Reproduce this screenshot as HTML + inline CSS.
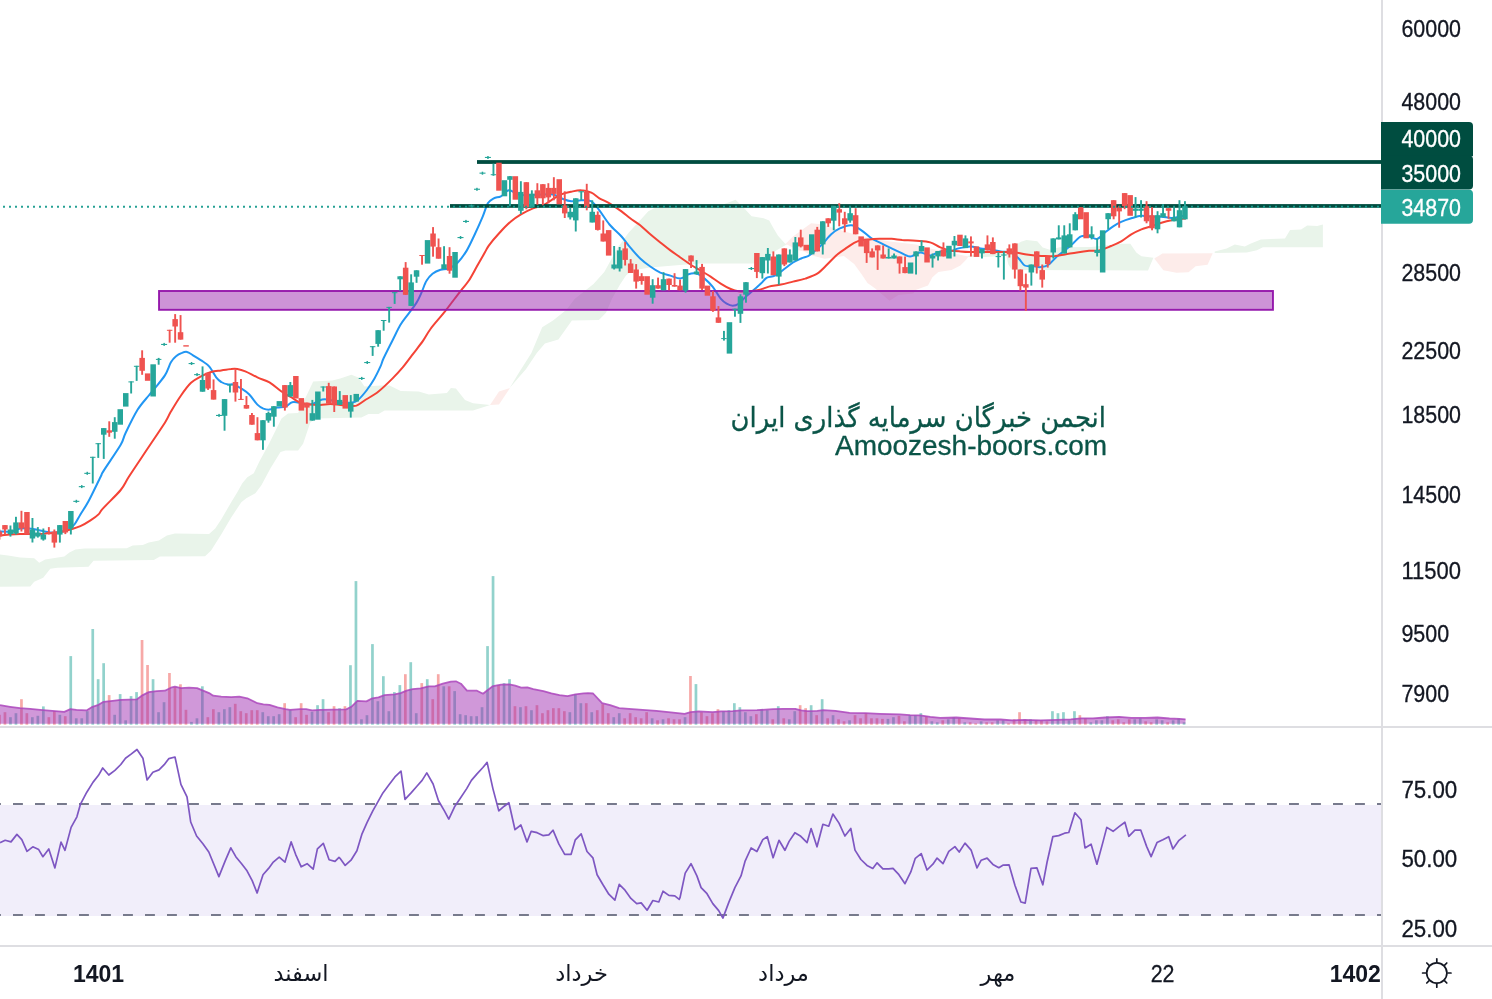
<!DOCTYPE html>
<html lang="fa"><head><meta charset="utf-8"><title>Chart</title>
<style>html,body{margin:0;padding:0;background:#fff}body{width:1492px;height:999px;overflow:hidden;position:relative;font-family:"Liberation Sans","DejaVu Sans",sans-serif}</style>
</head><body>
<svg width="1492" height="999" viewBox="0 0 1492 999" style="position:absolute;left:0;top:0;display:block">
<rect width="1492" height="999" fill="#fff"/>
<g id="cloud" stroke="none">
<polygon fill="#e9f4ea" points="0,554.6 8,555.6 20.1,557.6 34.2,558.2 39.2,562.7 45.2,559.6 64.3,556.6 69.4,552.6 75.4,549.6 84.5,548.6 126.7,548.2 132.7,545.6 142.8,545 148.8,542.6 158.9,540.5 166.9,535.5 174.9,533.5 209.1,534.1 215.2,528.5 221.2,519.4 231.2,502.3 237.3,492.3 242.3,483.2 247.3,477.2 253.8,473.2 259.4,461.5 269.4,443 281.5,418.6 288,413.6 298.1,413 306.1,396.5 313.2,381.4 332.3,380.4 340.3,378.4 351.4,374.8 358.4,377.4 364.5,386.5 380.5,385.5 389.6,385.5 400.7,391.1 418.7,391.5 428.8,394.5 446.9,392.9 450.9,387.9 455.9,388.5 465,399.9 473,403.2 490.1,405 490.1,405 473,410.6 384.6,410.6 378.5,414 368.5,414 361.4,417.6 315.2,418.6 310.2,422.7 303.1,443.8 298.1,450.4 285.5,450.6 280.5,452.1 270.5,468.2 261.4,485.2 255.4,493.3 246.3,498.3 241.3,502.3 231.2,517.4 221.2,534.5 211.1,550.6 205.1,556.2 159.9,556.6 153.8,560 93.5,560.7 88.5,566.7 57.3,567.7 50.3,568.7 43.2,577.7 34.2,581.8 30.2,586.4 0,586.8"/>
<polygon fill="#e9f4ea" points="509.7,388.1 517.8,374.6 531.4,353 542.2,327.3 553,320.5 566.5,309.7 574.6,298.9 593.5,284.1 604.3,271.9 617.8,247.6 628.6,232.7 640.2,220.3 648.3,211.2 654.3,208.2 677.3,207.4 717.8,206.5 735.6,199.8 744.4,208.6 751.6,216.2 763.6,218.2 769.2,220.6 773.2,227.8 778,235.8 785.2,243.8 787,244.2 787,244.2 754,263.5 700,263.5 680,265 650,267.5 632,270.5 626,275.5 620,284.6 612,298.7 606,312.8 598.9,320 571.9,320.5 558.4,339.5 544.9,343.5 536.8,353 525.9,369.2 517.8,378.6"/>
<polygon fill="#e9f4ea" points="1006,254.5 1010,250 1015,245.5 1021,241.7 1026.4,239.9 1037.3,241.2 1042.7,247.5 1049.9,249.8 1059.8,247.3 1091.1,247 1121.2,243.8 1130.3,243.8 1136.3,252.4 1141.4,256.3 1153.4,257.8 1153.4,257.8 1148,270.5 1090,270.3 1012,270 1008.4,264.6 1006.2,255.6"/>
<polygon fill="#e9f4ea" points="1214.7,251.6 1226.7,248.6 1234.8,244.6 1244.8,246.6 1250.9,243.6 1260.9,239.5 1285,238.5 1290.1,229.9 1301.1,229.5 1307.2,225.5 1317.2,226.1 1322.9,224.5 1322.9,247.2 1262.9,247.2 1256.9,250.2 1246.8,252.6 1214.7,253"/>
<polygon fill="#e9f4ea" points="968.4,255.8 985,253 1006,251 1006,255.8 985,257 968.4,257"/>
<polygon fill="#fdecea" points="490,405 499,391.5 510,388 504,397 499,404.5"/>
<polygon fill="#fdecea" points="785,244.4 793,236.4 811.1,223.3 821.2,224.3 841,230.3 861,236.4 890,241.4 916,244.4 930.2,248.4 968.4,256.5 968.4,256.5 966.3,259.6 960.4,265.5 951.6,269.9 938.3,272.1 932.4,277.2 928,285.4 916.2,289.8 913.2,293.5 898.5,294.9 889.6,300.8 879.3,292 874.9,288.3 867.5,283.1 861.6,274.3 854.2,264 843.9,255.9 824.7,258.8 810,255.1 804.5,251.5 798,250.2 787,244.6"/>
<polygon fill="#fdecea" points="1154.3,258.6 1162.4,253.6 1212.7,253.2 1207.6,264.7 1195.6,266.3 1188.5,272.3 1176.5,272.7 1163.4,270.3"/>
</g>
<g id="vol" fill-opacity="0.5">
<rect x="-1.9" y="714.8" width="2.7" height="9.9" fill="#ef5350"/>
<rect x="3.6" y="712.2" width="2.7" height="12.5" fill="#ef5350"/>
<rect x="9.1" y="717.2" width="2.7" height="7.4" fill="#26a69a"/>
<rect x="14.6" y="713.2" width="2.7" height="11.5" fill="#26a69a"/>
<rect x="20.1" y="699.2" width="2.7" height="25.5" fill="#ef5350"/>
<rect x="25.5" y="713.2" width="2.7" height="11.5" fill="#ef5350"/>
<rect x="31" y="717.2" width="2.7" height="7.4" fill="#26a69a"/>
<rect x="36.5" y="715.8" width="2.7" height="8.8" fill="#26a69a"/>
<rect x="42" y="706.4" width="2.7" height="18.3" fill="#26a69a"/>
<rect x="47.5" y="717.2" width="2.7" height="7.4" fill="#ef5350"/>
<rect x="53" y="711.2" width="2.7" height="13.5" fill="#ef5350"/>
<rect x="58.5" y="714.8" width="2.7" height="9.9" fill="#26a69a"/>
<rect x="63.9" y="716.2" width="2.7" height="8.4" fill="#ef5350"/>
<rect x="69.4" y="656.1" width="2.7" height="68.6" fill="#26a69a"/>
<rect x="74.9" y="718.3" width="2.7" height="6.4" fill="#26a69a"/>
<rect x="80.4" y="718.3" width="2.7" height="6.4" fill="#26a69a"/>
<rect x="85.9" y="711.2" width="2.7" height="13.5" fill="#26a69a"/>
<rect x="91.4" y="629" width="2.7" height="95.7" fill="#26a69a"/>
<rect x="96.8" y="679.2" width="2.7" height="45.4" fill="#26a69a"/>
<rect x="102.3" y="663.2" width="2.7" height="61.5" fill="#26a69a"/>
<rect x="107.8" y="695.1" width="2.7" height="29.6" fill="#ef5350"/>
<rect x="113.3" y="714.8" width="2.7" height="9.9" fill="#26a69a"/>
<rect x="118.8" y="694.1" width="2.7" height="30.6" fill="#26a69a"/>
<rect x="124.3" y="720.3" width="2.7" height="4.4" fill="#26a69a"/>
<rect x="129.7" y="696.1" width="2.7" height="28.6" fill="#26a69a"/>
<rect x="135.2" y="692.1" width="2.7" height="32.6" fill="#26a69a"/>
<rect x="140.7" y="640" width="2.7" height="84.7" fill="#ef5350"/>
<rect x="146.2" y="665" width="2.7" height="59.7" fill="#ef5350"/>
<rect x="151.7" y="679.2" width="2.7" height="45.4" fill="#26a69a"/>
<rect x="157.2" y="712.2" width="2.7" height="12.5" fill="#26a69a"/>
<rect x="162.7" y="702.2" width="2.7" height="22.5" fill="#26a69a"/>
<rect x="168.1" y="673" width="2.7" height="51.7" fill="#ef5350"/>
<rect x="173.6" y="687.1" width="2.7" height="37.6" fill="#ef5350"/>
<rect x="179.1" y="684.3" width="2.7" height="40.4" fill="#ef5350"/>
<rect x="184.6" y="709.8" width="2.7" height="14.9" fill="#ef5350"/>
<rect x="190.1" y="721.9" width="2.7" height="2.8" fill="#26a69a"/>
<rect x="195.6" y="718.3" width="2.7" height="6.4" fill="#26a69a"/>
<rect x="201" y="686.3" width="2.7" height="38.4" fill="#26a69a"/>
<rect x="206.5" y="717.2" width="2.7" height="7.4" fill="#ef5350"/>
<rect x="212" y="709.2" width="2.7" height="15.5" fill="#ef5350"/>
<rect x="217.5" y="712.2" width="2.7" height="12.5" fill="#26a69a"/>
<rect x="223" y="709.2" width="2.7" height="15.5" fill="#26a69a"/>
<rect x="228.5" y="707.2" width="2.7" height="17.5" fill="#26a69a"/>
<rect x="233.9" y="703.8" width="2.7" height="20.9" fill="#ef5350"/>
<rect x="239.4" y="711.2" width="2.7" height="13.5" fill="#ef5350"/>
<rect x="244.9" y="713.2" width="2.7" height="11.5" fill="#ef5350"/>
<rect x="250.4" y="710.2" width="2.7" height="14.5" fill="#ef5350"/>
<rect x="255.9" y="710.2" width="2.7" height="14.5" fill="#ef5350"/>
<rect x="261.4" y="712.2" width="2.7" height="12.5" fill="#26a69a"/>
<rect x="266.9" y="716.2" width="2.7" height="8.4" fill="#26a69a"/>
<rect x="272.3" y="716.2" width="2.7" height="8.4" fill="#26a69a"/>
<rect x="277.8" y="714.2" width="2.7" height="10.5" fill="#26a69a"/>
<rect x="283.3" y="703.2" width="2.7" height="21.5" fill="#ef5350"/>
<rect x="288.8" y="710.2" width="2.7" height="14.5" fill="#26a69a"/>
<rect x="294.3" y="717.2" width="2.7" height="7.4" fill="#ef5350"/>
<rect x="299.8" y="703.2" width="2.7" height="21.5" fill="#ef5350"/>
<rect x="305.2" y="714.8" width="2.7" height="9.9" fill="#ef5350"/>
<rect x="310.7" y="711.8" width="2.7" height="12.9" fill="#26a69a"/>
<rect x="316.2" y="705.2" width="2.7" height="19.5" fill="#26a69a"/>
<rect x="321.7" y="699.2" width="2.7" height="25.5" fill="#26a69a"/>
<rect x="327.2" y="712.2" width="2.7" height="12.5" fill="#ef5350"/>
<rect x="332.7" y="706.2" width="2.7" height="18.5" fill="#ef5350"/>
<rect x="338.2" y="708.2" width="2.7" height="16.5" fill="#26a69a"/>
<rect x="343.6" y="706.2" width="2.7" height="18.5" fill="#ef5350"/>
<rect x="349.1" y="665.2" width="2.7" height="59.5" fill="#26a69a"/>
<rect x="354.6" y="581.1" width="2.7" height="143.6" fill="#26a69a"/>
<rect x="360.1" y="719.3" width="2.7" height="5.4" fill="#26a69a"/>
<rect x="365.6" y="715.2" width="2.7" height="9.4" fill="#26a69a"/>
<rect x="371.1" y="644.1" width="2.7" height="80.6" fill="#26a69a"/>
<rect x="376.5" y="701.2" width="2.7" height="23.5" fill="#26a69a"/>
<rect x="382" y="676.2" width="2.7" height="48.5" fill="#26a69a"/>
<rect x="387.5" y="711.2" width="2.7" height="13.5" fill="#26a69a"/>
<rect x="393" y="692.1" width="2.7" height="32.6" fill="#26a69a"/>
<rect x="398.5" y="685.1" width="2.7" height="39.6" fill="#26a69a"/>
<rect x="404" y="674.2" width="2.7" height="50.5" fill="#ef5350"/>
<rect x="409.4" y="662.2" width="2.7" height="62.5" fill="#26a69a"/>
<rect x="414.9" y="713.2" width="2.7" height="11.5" fill="#26a69a"/>
<rect x="420.4" y="683.1" width="2.7" height="41.6" fill="#ef5350"/>
<rect x="425.9" y="679.2" width="2.7" height="45.4" fill="#26a69a"/>
<rect x="431.4" y="699.2" width="2.7" height="25.5" fill="#ef5350"/>
<rect x="436.9" y="674.2" width="2.7" height="50.5" fill="#ef5350"/>
<rect x="442.4" y="686.3" width="2.7" height="38.4" fill="#26a69a"/>
<rect x="447.8" y="686.3" width="2.7" height="38.4" fill="#ef5350"/>
<rect x="453.3" y="691.1" width="2.7" height="33.6" fill="#26a69a"/>
<rect x="458.8" y="714.2" width="2.7" height="10.5" fill="#26a69a"/>
<rect x="464.3" y="715.2" width="2.7" height="9.4" fill="#26a69a"/>
<rect x="469.8" y="716.2" width="2.7" height="8.4" fill="#26a69a"/>
<rect x="475.3" y="716.2" width="2.7" height="8.4" fill="#26a69a"/>
<rect x="480.7" y="707.2" width="2.7" height="17.5" fill="#26a69a"/>
<rect x="486.2" y="646.1" width="2.7" height="78.6" fill="#26a69a"/>
<rect x="491.7" y="576.1" width="2.7" height="148.6" fill="#26a69a"/>
<rect x="497.2" y="685.1" width="2.7" height="39.6" fill="#ef5350"/>
<rect x="502.7" y="683.1" width="2.7" height="41.6" fill="#26a69a"/>
<rect x="508.2" y="679.2" width="2.7" height="45.4" fill="#26a69a"/>
<rect x="513.6" y="706.2" width="2.7" height="18.5" fill="#ef5350"/>
<rect x="519.1" y="707.2" width="2.7" height="17.5" fill="#26a69a"/>
<rect x="524.6" y="706.2" width="2.7" height="18.5" fill="#ef5350"/>
<rect x="530.1" y="710.2" width="2.7" height="14.5" fill="#26a69a"/>
<rect x="535.6" y="705.2" width="2.7" height="19.5" fill="#ef5350"/>
<rect x="541.1" y="713.2" width="2.7" height="11.5" fill="#ef5350"/>
<rect x="546.6" y="710.2" width="2.7" height="14.5" fill="#ef5350"/>
<rect x="552" y="708.2" width="2.7" height="16.5" fill="#ef5350"/>
<rect x="557.5" y="708.2" width="2.7" height="16.5" fill="#ef5350"/>
<rect x="563" y="711.2" width="2.7" height="13.5" fill="#ef5350"/>
<rect x="568.5" y="712.2" width="2.7" height="12.5" fill="#26a69a"/>
<rect x="574" y="694.1" width="2.7" height="30.6" fill="#26a69a"/>
<rect x="579.5" y="703.2" width="2.7" height="21.5" fill="#26a69a"/>
<rect x="584.9" y="703.2" width="2.7" height="21.5" fill="#ef5350"/>
<rect x="590.4" y="712.2" width="2.7" height="12.5" fill="#26a69a"/>
<rect x="595.9" y="710.2" width="2.7" height="14.5" fill="#ef5350"/>
<rect x="601.4" y="704.2" width="2.7" height="20.5" fill="#ef5350"/>
<rect x="606.9" y="713.2" width="2.7" height="11.5" fill="#ef5350"/>
<rect x="612.4" y="717.2" width="2.7" height="7.4" fill="#26a69a"/>
<rect x="617.9" y="713.2" width="2.7" height="11.5" fill="#26a69a"/>
<rect x="623.3" y="718.3" width="2.7" height="6.4" fill="#ef5350"/>
<rect x="628.8" y="713.2" width="2.7" height="11.5" fill="#ef5350"/>
<rect x="634.3" y="717.2" width="2.7" height="7.4" fill="#ef5350"/>
<rect x="639.8" y="718.3" width="2.7" height="6.4" fill="#ef5350"/>
<rect x="645.3" y="712.2" width="2.7" height="12.5" fill="#ef5350"/>
<rect x="650.8" y="718.3" width="2.7" height="6.4" fill="#26a69a"/>
<rect x="656.2" y="720.3" width="2.7" height="4.4" fill="#ef5350"/>
<rect x="661.7" y="719.3" width="2.7" height="5.4" fill="#26a69a"/>
<rect x="667.2" y="718.3" width="2.7" height="6.4" fill="#ef5350"/>
<rect x="672.7" y="719.3" width="2.7" height="5.4" fill="#ef5350"/>
<rect x="678.2" y="719.3" width="2.7" height="5.4" fill="#ef5350"/>
<rect x="683.7" y="717.2" width="2.7" height="7.4" fill="#26a69a"/>
<rect x="689.1" y="676" width="2.7" height="48.7" fill="#ef5350"/>
<rect x="694.6" y="684.1" width="2.7" height="40.6" fill="#26a69a"/>
<rect x="700.1" y="712.2" width="2.7" height="12.5" fill="#ef5350"/>
<rect x="705.6" y="716.2" width="2.7" height="8.4" fill="#ef5350"/>
<rect x="711.1" y="713.2" width="2.7" height="11.5" fill="#ef5350"/>
<rect x="716.6" y="709.2" width="2.7" height="15.5" fill="#ef5350"/>
<rect x="722.1" y="711.2" width="2.7" height="13.5" fill="#26a69a"/>
<rect x="727.5" y="710.2" width="2.7" height="14.5" fill="#26a69a"/>
<rect x="733" y="703.2" width="2.7" height="21.5" fill="#26a69a"/>
<rect x="738.5" y="707.2" width="2.7" height="17.5" fill="#26a69a"/>
<rect x="744" y="712.2" width="2.7" height="12.5" fill="#26a69a"/>
<rect x="749.5" y="716.2" width="2.7" height="8.4" fill="#26a69a"/>
<rect x="755" y="714.2" width="2.7" height="10.5" fill="#ef5350"/>
<rect x="760.4" y="709.2" width="2.7" height="15.5" fill="#26a69a"/>
<rect x="765.9" y="710.2" width="2.7" height="14.5" fill="#26a69a"/>
<rect x="771.4" y="719.3" width="2.7" height="5.4" fill="#ef5350"/>
<rect x="776.9" y="706.2" width="2.7" height="18.5" fill="#26a69a"/>
<rect x="782.4" y="718.3" width="2.7" height="6.4" fill="#ef5350"/>
<rect x="787.9" y="719.3" width="2.7" height="5.4" fill="#26a69a"/>
<rect x="793.4" y="711.2" width="2.7" height="13.5" fill="#26a69a"/>
<rect x="798.8" y="705.2" width="2.7" height="19.5" fill="#ef5350"/>
<rect x="804.3" y="708.2" width="2.7" height="16.5" fill="#ef5350"/>
<rect x="809.8" y="705.2" width="2.7" height="19.5" fill="#26a69a"/>
<rect x="815.3" y="715.2" width="2.7" height="9.4" fill="#ef5350"/>
<rect x="820.8" y="699.2" width="2.7" height="25.5" fill="#26a69a"/>
<rect x="826.3" y="718.3" width="2.7" height="6.4" fill="#ef5350"/>
<rect x="831.7" y="715.2" width="2.7" height="9.4" fill="#26a69a"/>
<rect x="837.2" y="719.3" width="2.7" height="5.4" fill="#ef5350"/>
<rect x="842.7" y="721.3" width="2.7" height="3.4" fill="#ef5350"/>
<rect x="848.2" y="720.3" width="2.7" height="4.4" fill="#26a69a"/>
<rect x="853.7" y="715.2" width="2.7" height="9.4" fill="#ef5350"/>
<rect x="859.2" y="718.3" width="2.7" height="6.4" fill="#ef5350"/>
<rect x="864.6" y="713.2" width="2.7" height="11.5" fill="#ef5350"/>
<rect x="870.1" y="718.3" width="2.7" height="6.4" fill="#ef5350"/>
<rect x="875.6" y="718.3" width="2.7" height="6.4" fill="#ef5350"/>
<rect x="881.1" y="718.9" width="2.7" height="5.8" fill="#ef5350"/>
<rect x="886.6" y="718.9" width="2.7" height="5.8" fill="#26a69a"/>
<rect x="892.1" y="717.2" width="2.7" height="7.4" fill="#26a69a"/>
<rect x="897.6" y="715.8" width="2.7" height="8.8" fill="#ef5350"/>
<rect x="903" y="721.3" width="2.7" height="3.4" fill="#ef5350"/>
<rect x="908.5" y="715.2" width="2.7" height="9.4" fill="#26a69a"/>
<rect x="914" y="715.2" width="2.7" height="9.4" fill="#26a69a"/>
<rect x="919.5" y="713.2" width="2.7" height="11.5" fill="#26a69a"/>
<rect x="925" y="716.2" width="2.7" height="8.4" fill="#ef5350"/>
<rect x="930.5" y="721.3" width="2.7" height="3.4" fill="#26a69a"/>
<rect x="935.9" y="722.3" width="2.7" height="2.4" fill="#26a69a"/>
<rect x="941.4" y="720.3" width="2.7" height="4.4" fill="#ef5350"/>
<rect x="946.9" y="719.3" width="2.7" height="5.4" fill="#26a69a"/>
<rect x="952.4" y="717.2" width="2.7" height="7.4" fill="#26a69a"/>
<rect x="957.9" y="718.3" width="2.7" height="6.4" fill="#ef5350"/>
<rect x="963.4" y="722.3" width="2.7" height="2.4" fill="#26a69a"/>
<rect x="968.8" y="722.3" width="2.7" height="2.4" fill="#ef5350"/>
<rect x="974.3" y="723.3" width="2.7" height="1.4" fill="#ef5350"/>
<rect x="979.8" y="721.3" width="2.7" height="3.4" fill="#26a69a"/>
<rect x="985.3" y="722.3" width="2.7" height="2.4" fill="#ef5350"/>
<rect x="990.8" y="722.3" width="2.7" height="2.4" fill="#ef5350"/>
<rect x="996.3" y="720.3" width="2.7" height="4.4" fill="#26a69a"/>
<rect x="1001.8" y="720.3" width="2.7" height="4.4" fill="#26a69a"/>
<rect x="1007.2" y="723.3" width="2.7" height="1.4" fill="#ef5350"/>
<rect x="1012.7" y="719.3" width="2.7" height="5.4" fill="#ef5350"/>
<rect x="1018.2" y="712.2" width="2.7" height="12.5" fill="#ef5350"/>
<rect x="1023.7" y="719.3" width="2.7" height="5.4" fill="#ef5350"/>
<rect x="1029.2" y="719.3" width="2.7" height="5.4" fill="#26a69a"/>
<rect x="1034.7" y="720.3" width="2.7" height="4.4" fill="#ef5350"/>
<rect x="1040.1" y="720.3" width="2.7" height="4.4" fill="#ef5350"/>
<rect x="1045.6" y="721.3" width="2.7" height="3.4" fill="#ef5350"/>
<rect x="1051.1" y="711.2" width="2.7" height="13.5" fill="#26a69a"/>
<rect x="1056.6" y="713.2" width="2.7" height="11.5" fill="#26a69a"/>
<rect x="1062.1" y="712.2" width="2.7" height="12.5" fill="#26a69a"/>
<rect x="1067.6" y="720.3" width="2.7" height="4.4" fill="#26a69a"/>
<rect x="1073.1" y="711.2" width="2.7" height="13.5" fill="#26a69a"/>
<rect x="1078.5" y="715.2" width="2.7" height="9.4" fill="#ef5350"/>
<rect x="1084" y="718.3" width="2.7" height="6.4" fill="#ef5350"/>
<rect x="1089.5" y="722.3" width="2.7" height="2.4" fill="#26a69a"/>
<rect x="1095" y="720.3" width="2.7" height="4.4" fill="#26a69a"/>
<rect x="1100.5" y="720.3" width="2.7" height="4.4" fill="#26a69a"/>
<rect x="1106" y="716.2" width="2.7" height="8.4" fill="#26a69a"/>
<rect x="1111.4" y="720.3" width="2.7" height="4.4" fill="#ef5350"/>
<rect x="1116.9" y="719.3" width="2.7" height="5.4" fill="#ef5350"/>
<rect x="1122.4" y="722.3" width="2.7" height="2.4" fill="#ef5350"/>
<rect x="1127.9" y="719.3" width="2.7" height="5.4" fill="#ef5350"/>
<rect x="1133.4" y="719.3" width="2.7" height="5.4" fill="#26a69a"/>
<rect x="1138.9" y="718.3" width="2.7" height="6.4" fill="#26a69a"/>
<rect x="1144.3" y="721.3" width="2.7" height="3.4" fill="#ef5350"/>
<rect x="1149.8" y="722.3" width="2.7" height="2.4" fill="#ef5350"/>
<rect x="1155.3" y="719.3" width="2.7" height="5.4" fill="#26a69a"/>
<rect x="1160.8" y="720.3" width="2.7" height="4.4" fill="#26a69a"/>
<rect x="1166.3" y="722.3" width="2.7" height="2.4" fill="#ef5350"/>
<rect x="1171.8" y="720.3" width="2.7" height="4.4" fill="#26a69a"/>
<rect x="1177.3" y="718.3" width="2.7" height="6.4" fill="#26a69a"/>
<rect x="1182.7" y="722.3" width="2.7" height="2.4" fill="#26a69a"/>
</g>
<path d="M0 705.2 L10.1 706.8 L20.1 708.2 L30.2 708.8 L40.2 709.8 L52.3 710.8 L64.3 711.8 L70.4 709.2 L76.4 709.8 L86.5 710.4 L92.5 706.8 L98.5 704.8 L103.6 701.8 L112.6 700.8 L120.7 699.8 L136.7 699.4 L142.8 695.1 L148.8 692.1 L156.8 691.1 L164.9 690.7 L170.9 687.7 L174.9 686.7 L181 688.1 L189 687.7 L197.1 688.1 L203.1 690.7 L209.1 693.1 L213.2 695.7 L221.2 696.7 L231.2 697.1 L239.3 696.7 L247.3 698.3 L257.4 703.2 L263.4 704.4 L269.5 704.8 L277.5 707.4 L285.5 709.2 L290 709.8 L300.1 709.2 L306.1 709.2 L312.1 710.4 L320.2 709.8 L346.3 709.4 L351.3 706.8 L357.4 700.8 L366.4 701.4 L372.4 698.3 L378.5 697.3 L384.5 695.1 L394.6 694.3 L400.6 693.1 L406.6 690.7 L412.7 689.1 L420.7 688.3 L428.7 686.3 L434.8 686.3 L442.8 683.7 L450.9 681.7 L455.9 681.3 L460.9 683.7 L467 690.7 L477 690.7 L483 693.7 L488.1 689.7 L493.1 686.1 L501.1 684.7 L509.2 684.3 L515.2 685.7 L521.2 687.7 L527.3 687.3 L533.3 689.1 L543.4 691.1 L551.4 693.3 L559.5 695.1 L567.5 696.1 L575.5 694.3 L583.6 693.3 L588 693.1 L593.1 693.5 L602.1 703.2 L610.2 705.2 L619.2 708.2 L632.3 709.2 L656.4 710.8 L668.5 712.2 L684.6 713.8 L690.6 712.2 L698.6 711.4 L712.7 712.2 L720.8 711.4 L732.8 711.2 L740.9 710.4 L757 710.2 L773 709.2 L783.1 708.8 L795.2 708.8 L801.2 710.4 L807.2 711.2 L817.3 710.8 L823.3 710.2 L835.4 710.8 L849.5 712.8 L865.5 713.2 L880 713.8 L900 714.4 L910.1 715.2 L920.1 715.4 L930.2 716.8 L940.2 717.9 L956.3 717.5 L970.4 718.5 L984.5 719.5 L1000.5 719.5 L1012.6 720.3 L1024.7 719.9 L1040.8 720.3 L1056.8 719.9 L1070.9 719.3 L1081 718.3 L1093 718.3 L1105.1 717.5 L1119.2 716.8 L1131.2 717.9 L1145.3 717.9 L1157.4 717.5 L1169.5 718.5 L1179.5 718.9 L1185.5 719.3 L1185.5 723.8 L0 723.8 Z" fill="#9c27b0" fill-opacity="0.48"/>
<path d="M0 705.2 L10.1 706.8 L20.1 708.2 L30.2 708.8 L40.2 709.8 L52.3 710.8 L64.3 711.8 L70.4 709.2 L76.4 709.8 L86.5 710.4 L92.5 706.8 L98.5 704.8 L103.6 701.8 L112.6 700.8 L120.7 699.8 L136.7 699.4 L142.8 695.1 L148.8 692.1 L156.8 691.1 L164.9 690.7 L170.9 687.7 L174.9 686.7 L181 688.1 L189 687.7 L197.1 688.1 L203.1 690.7 L209.1 693.1 L213.2 695.7 L221.2 696.7 L231.2 697.1 L239.3 696.7 L247.3 698.3 L257.4 703.2 L263.4 704.4 L269.5 704.8 L277.5 707.4 L285.5 709.2 L290 709.8 L300.1 709.2 L306.1 709.2 L312.1 710.4 L320.2 709.8 L346.3 709.4 L351.3 706.8 L357.4 700.8 L366.4 701.4 L372.4 698.3 L378.5 697.3 L384.5 695.1 L394.6 694.3 L400.6 693.1 L406.6 690.7 L412.7 689.1 L420.7 688.3 L428.7 686.3 L434.8 686.3 L442.8 683.7 L450.9 681.7 L455.9 681.3 L460.9 683.7 L467 690.7 L477 690.7 L483 693.7 L488.1 689.7 L493.1 686.1 L501.1 684.7 L509.2 684.3 L515.2 685.7 L521.2 687.7 L527.3 687.3 L533.3 689.1 L543.4 691.1 L551.4 693.3 L559.5 695.1 L567.5 696.1 L575.5 694.3 L583.6 693.3 L588 693.1 L593.1 693.5 L602.1 703.2 L610.2 705.2 L619.2 708.2 L632.3 709.2 L656.4 710.8 L668.5 712.2 L684.6 713.8 L690.6 712.2 L698.6 711.4 L712.7 712.2 L720.8 711.4 L732.8 711.2 L740.9 710.4 L757 710.2 L773 709.2 L783.1 708.8 L795.2 708.8 L801.2 710.4 L807.2 711.2 L817.3 710.8 L823.3 710.2 L835.4 710.8 L849.5 712.8 L865.5 713.2 L880 713.8 L900 714.4 L910.1 715.2 L920.1 715.4 L930.2 716.8 L940.2 717.9 L956.3 717.5 L970.4 718.5 L984.5 719.5 L1000.5 719.5 L1012.6 720.3 L1024.7 719.9 L1040.8 720.3 L1056.8 719.9 L1070.9 719.3 L1081 718.3 L1093 718.3 L1105.1 717.5 L1119.2 716.8 L1131.2 717.9 L1145.3 717.9 L1157.4 717.5 L1169.5 718.5 L1179.5 718.9 L1185.5 719.3" fill="none" stroke="#ab47bc" stroke-opacity="0.85" stroke-width="1.8" stroke-linejoin="round"/>
<path d="M0 531.5 C2 531.5 8.7 532 12.1 531.5 C15.4 531 17.1 529 20.1 528.5 C23.1 528 26.8 528.1 30.2 528.5 C33.5 528.8 36.9 529.8 40.2 530.5 C43.6 531.2 46.9 532.2 50.3 532.5 C53.6 532.8 57.3 532.6 60.3 532.1 C63.3 531.6 66 530.8 68.4 529.5 C70.7 528.2 72.4 527 74.4 524.5 C76.4 521.9 78.1 518.3 80.4 514.4 C82.8 510.5 85.1 507.6 88.5 501.3 C91.8 495.1 98 482 100.5 477 C103.1 471.9 100.2 476.3 103.6 470.9 C106.9 465.6 117 451.1 120.7 444.8 C124.3 438.4 122.8 438.6 125.7 432.7 C128.5 426.9 133.9 415.8 137.7 409.6 C141.6 403.4 146.1 398.9 148.8 395.5 C151.5 392.2 151.1 392.8 153.8 389.5 C156.5 386.1 162 379.9 164.9 375.4 C167.7 370.9 169.1 365.5 170.9 362.3 C172.8 359.2 174.1 357.9 176 356.3 C177.8 354.7 180.1 353.6 182 352.9 C183.8 352.1 185.2 351.5 187 351.9 C188.9 352.3 190.7 353.9 193 355.3 C195.4 356.7 198.4 358.5 201.1 360.3 C203.8 362.2 206.6 363.5 209.1 366.4 C211.6 369.2 214.2 374.8 216.2 377.4 C218.2 380 219.2 380.9 221.2 382 C223.2 383.2 226.2 384.1 228.2 384.5 C230.2 384.9 231.1 383.8 233.3 384.5 C235.4 385.1 238.6 386.8 241.3 388.5 C244 390.2 246.7 391.8 249.3 394.5 C252 397.2 255 402.2 257.4 404.6 C259.7 406.9 261.4 407.7 263.4 408.6 C265.4 409.4 267.1 409.8 269.5 409.6 C271.8 409.4 274.8 408.1 277.5 407.6 C280.2 407.1 283.1 407.5 285.5 406.6 C288 405.7 290 402.8 292.1 402.2 C294.2 401.5 295.8 402.2 298.1 402.6 C300.4 403 303.6 404.4 306.1 404.6 C308.7 404.7 310.5 404.4 313.2 403.6 C315.9 402.7 319.4 400.1 322.2 399.5 C325.1 398.9 327.3 399.4 330.3 399.9 C333.3 400.4 337 402.1 340.3 402.6 C343.7 403 347.5 402.9 350.4 402.6 C353.2 402.2 354.7 402.6 357.4 400.5 C360.1 398.5 363.6 394.2 366.5 390.5 C369.3 386.8 372.2 382.4 374.5 378.4 C376.9 374.4 379 369.7 380.5 366.4 C382.1 363 381.5 362.7 383.6 358.3 C385.6 354 389.8 345.8 392.6 340.2 C395.4 334.7 397.7 329.4 400.3 325 C403 320.6 405.7 317.6 408.4 313.9 C411.1 310.3 414.2 306.4 416.4 302.9 C418.6 299.4 419.8 296.5 421.4 292.8 C423.1 289.1 424.6 283.9 426.5 280.8 C428.3 277.6 430.2 275.6 432.5 273.7 C434.8 271.9 437.9 270.5 440.5 269.7 C443.2 268.9 445.7 269.9 448.6 268.7 C451.4 267.5 454.6 265.7 457.6 262.7 C460.7 259.6 463.8 255.3 466.7 250.6 C469.5 245.9 472 240.2 474.7 234.5 C477.4 228.8 480.6 221.6 482.8 216.4 C484.9 211.2 486 206.4 487.8 203.3 C489.6 200.3 491.7 199.5 493.8 198.3 C496 197.1 498.4 197.6 500.9 196.3 C503.4 195 506.2 190.7 508.9 190.3 C511.6 189.9 514.3 193.1 517 193.9 C519.6 194.7 519.3 195.2 525 195.3 C530.7 195.4 545.1 193.8 551.1 194.3 C557.2 194.8 557.8 197.1 561.2 198.3 C564.5 199.5 567.9 201 571.2 201.3 C574.6 201.7 578 200.3 581.3 200.3 C584.7 200.3 588.3 199.7 591.4 201.3 C594.4 203 596.4 206.5 599.4 210.4 C602.4 214.2 605.8 220.1 609.5 224.5 C613.1 228.8 618.1 232.7 621.5 236.5 C625 240.3 627 243.8 630.2 247.4 C633.3 251.1 636.9 255.3 640.2 258.5 C643.6 261.7 646.9 264.2 650.3 266.5 C653.6 268.9 657 271 660.3 272.6 C663.7 274.1 667 274.6 670.4 275.6 C673.7 276.6 677.4 278.8 680.4 278.6 C683.5 278.4 685.8 275 688.5 274.2 C691.2 273.3 693.8 272.8 696.5 273.6 C699.2 274.3 701.9 276.4 704.6 278.6 C707.2 280.8 709.9 283.3 712.6 286.6 C715.3 290 718.3 295.8 720.7 298.7 C723 301.5 724.7 302.5 726.7 303.7 C728.7 304.9 730.7 305.7 732.7 305.7 C734.7 305.7 736.7 305.1 738.7 303.7 C740.8 302.4 742.4 299.9 744.8 297.7 C747.1 295.5 750.1 293 752.8 290.7 C755.5 288.3 758.5 285.8 760.9 283.6 C763.2 281.4 764.6 278.9 766.9 277.6 C769.2 276.2 771.9 277.1 774.9 275.6 C778 274.1 782 270.7 785 268.5 C788 266.4 790.4 264.2 793 262.5 C795.7 260.8 798.6 259.6 801.1 258.5 C803.6 257.4 806.1 257.1 808.1 256.1 C810.1 255.1 811 254.2 813.2 252.4 C815.3 250.7 818.2 248.4 821.2 245.4 C824.2 242.4 828.2 237.1 831.2 234.3 C834.3 231.6 835.9 230.2 839.3 228.7 C842.6 227.2 847.7 225 851.4 225.3 C855 225.6 858.1 228.1 861.4 230.3 C864.8 232.5 868.1 236.2 871.5 238.4 C874.8 240.5 878.2 241.7 881.5 243.4 C884.9 245.1 888.5 246.9 891.6 248.4 C894.7 249.9 897 251.1 900.1 252.4 C903.1 253.8 906.8 256.5 910.1 256.5 C913.5 256.5 916.8 252.6 920.2 252.4 C923.5 252.3 926.9 255.6 930.2 255.5 C933.6 255.3 936.9 252.1 940.3 251.4 C943.6 250.8 947.3 251.9 950.3 251.4 C953.3 250.9 955 249.3 958.4 248.4 C961.7 247.6 966.7 246.4 970.4 246.4 C974.1 246.4 977.1 247.9 980.5 248.4 C983.8 248.9 987.2 248.9 990.5 249.4 C993.9 249.9 997.2 250.9 1000.6 251.4 C1003.9 251.9 1007.6 251.3 1010.7 252.4 C1013.7 253.6 1016.3 256.3 1018.7 258.5 C1021 260.7 1022.4 264.2 1024.7 265.5 C1027.1 266.8 1030.1 265.9 1032.8 266.1 C1035.5 266.4 1038.1 267.4 1040.8 267.1 C1043.5 266.9 1046.2 266.3 1048.9 264.5 C1051.5 262.7 1054.2 258.8 1056.9 256.5 C1059.6 254.1 1062.3 252.6 1064.9 250.4 C1067.6 248.3 1070.3 245.7 1073 243.4 C1075.7 241.1 1078.4 237.5 1081 236.4 C1083.7 235.2 1086.4 235.9 1089.1 236.4 C1091.8 236.8 1094.4 239.6 1097.1 239 C1099.8 238.3 1102.5 234.4 1105.2 232.3 C1107.8 230.2 1110.5 228 1113.2 226.3 C1115.9 224.6 1118.2 223.2 1121.2 221.9 C1124.3 220.5 1128 219.3 1131.3 218.3 C1134.7 217.3 1138 216.1 1141.4 215.8 C1144.7 215.6 1148.1 216.5 1151.4 216.7 C1154.8 216.8 1158.1 216.5 1161.5 216.7 C1164.8 216.9 1168.5 217.9 1171.5 217.9 C1174.5 217.9 1177.3 217 1179.6 216.7 C1181.8 216.3 1184.3 215.8 1185.2 215.6" fill="none" stroke="#2196f3" stroke-width="2" stroke-linejoin="round" stroke-linecap="round"/>
<path d="M0 535.5 C1.7 535.3 6.7 534.8 10.1 534.5 C13.4 534.2 16.8 534 20.1 533.9 C23.5 533.8 26.8 534.1 30.2 534.1 C33.5 534.1 36.5 534.3 40.2 534.1 C43.9 533.9 48.9 533.2 52.3 532.9 C55.6 532.6 57.3 532.7 60.3 532.1 C63.3 531.5 67 530.5 70.4 529.5 C73.7 528.5 77.1 527.6 80.4 526.1 C83.8 524.6 87.5 522.4 90.5 520.4 C93.5 518.5 96.5 516.4 98.5 514.4 C100.6 512.4 99.3 512.4 103 508.4 C106.6 504.3 116.4 495.3 120.7 490 C124.9 484.8 124.7 483.2 128.7 477 C132.7 470.8 138.7 461.9 144.8 452.8 C150.8 443.8 160.5 429.5 164.9 422.7 C169.2 415.8 168.2 416.1 170.9 411.6 C173.6 407.1 177.6 400.3 181 395.5 C184.3 390.7 187.7 386 191 382.8 C194.4 379.7 197.7 378.2 201.1 376.4 C204.4 374.6 207.8 373 211.1 372 C214.5 371 217.8 370.9 221.2 370.4 C224.5 369.9 228.6 369.2 231.2 369 C233.9 368.7 234.9 368.6 237.3 369 C239.6 369.4 242 370 245.3 371.4 C248.7 372.8 253.4 375.6 257.4 377.4 C261.4 379.3 265.4 380.1 269.5 382.4 C273.5 384.8 277.8 389 281.5 391.5 C285.2 394 288.5 395.7 291.6 397.5 C294.7 399.4 297 401.4 300.1 402.6 C303.2 403.7 306.8 404.2 310.2 404.6 C313.5 405 316.9 405.1 320.2 405 C323.6 404.9 326.9 404 330.3 404 C333.6 404 337.1 404.7 340.3 405 C343.5 405.2 346.7 405.5 349.4 405.6 C352.1 405.7 353.9 406.4 356.4 405.6 C358.9 404.7 360.8 402.9 364.5 400.5 C368.1 398.2 373.8 395.2 378.5 391.5 C383.2 387.8 388.6 382.4 392.6 378.4 C396.6 374.4 399.3 371.4 402.7 367.4 C406 363.3 409.4 358.7 412.7 354.3 C416.1 349.9 419.8 345.4 422.8 341.2 C425.7 337 426.9 333.9 430.5 329 C434.1 324.1 439.5 318.3 444.6 311.9 C449.6 305.6 456.6 296 460.7 290.8 C464.7 285.6 466 284.8 468.7 280.8 C471.4 276.7 474.1 271.4 476.7 266.7 C479.4 262 482.8 256.1 484.8 252.6 C486.8 249.1 486.5 248.8 488.8 245.6 C491.1 242.4 495.2 237.5 498.9 233.5 C502.5 229.5 507.2 224.6 510.9 221.4 C514.6 218.3 517.3 216.6 521 214.4 C524.7 212.2 529.4 209.9 533 208.4 C536.7 206.9 540.1 206.7 543.1 205.4 C546.1 204 548.1 202.2 551.1 200.3 C554.2 198.5 557.8 195.7 561.2 194.3 C564.5 192.9 567.9 192.3 571.2 191.7 C574.6 191 578 190.1 581.3 190.3 C584.7 190.4 588.3 191.3 591.4 192.7 C594.4 194 596.4 196.5 599.4 198.3 C602.4 200.1 605.8 201.2 609.5 203.3 C613.1 205.5 618.1 208.9 621.5 211.4 C625 213.9 627 215.9 630.2 218.3 C633.3 220.6 636.9 222.6 640.2 225.3 C643.6 228 646.9 231.5 650.3 234.3 C653.6 237.2 657 239.7 660.3 242.4 C663.7 245.1 667 247.9 670.4 250.4 C673.7 252.9 677.1 255.1 680.4 257.5 C683.8 259.8 687.1 262.3 690.5 264.5 C693.8 266.7 697.2 268.5 700.5 270.5 C703.9 272.6 707.2 274.4 710.6 276.6 C713.9 278.8 717.3 281.5 720.7 283.6 C724 285.7 727.7 287.8 730.7 289 C733.7 290.3 735.7 290.9 738.7 291.3 C741.8 291.6 745.5 291.5 748.8 291.3 C752.2 291.1 755.5 290.8 758.9 290 C762.2 289.3 765.2 287.5 768.9 286.6 C772.6 285.7 777 285.5 781 284.6 C785 283.8 789 282.6 793 281.6 C797.1 280.6 801.1 279.9 805.1 278.6 C809.1 277.2 813.5 275.9 817.2 273.6 C820.9 271.2 823.9 267.7 827.2 264.5 C830.6 261.3 833.9 257.3 837.3 254.5 C840.6 251.6 844 249.6 847.3 247.4 C850.7 245.2 853.7 242.7 857.4 241.4 C861.1 240 865.4 239.8 869.5 239.4 C873.5 238.9 877.8 238.9 881.5 238.8 C885.2 238.7 888.2 238.6 891.6 238.8 C895 239 898 239.6 902.1 240 C906.2 240.3 911.4 240.4 916.1 240.8 C920.8 241.2 926.2 241.3 930.2 242.4 C934.2 243.5 936.9 246.1 940.3 247.4 C943.6 248.8 947 249.8 950.3 250.4 C953.7 251.1 957 251.2 960.4 251.4 C963.7 251.7 967.1 251.9 970.4 252 C973.8 252.1 977.1 252 980.5 252 C983.8 252 986.9 252 990.5 252 C994.2 252 998.6 252 1002.6 252 C1006.6 252.1 1010.7 252 1014.7 252.4 C1018.7 252.8 1023.4 254 1026.7 254.5 C1030.1 255 1031.8 255.2 1034.8 255.5 C1037.8 255.7 1041.5 256 1044.8 256.1 C1048.2 256.2 1051.5 256.3 1054.9 256.1 C1058.2 255.8 1061.3 255.1 1064.9 254.5 C1068.6 253.9 1073 253 1077 252.4 C1081 251.8 1085.4 251.2 1089.1 250.8 C1092.8 250.5 1095.4 251.2 1099.1 250.4 C1102.8 249.6 1107.5 247.5 1111.2 246 C1114.9 244.5 1117.9 243.3 1121.2 241.4 C1124.6 239.4 1128 236.4 1131.3 234.3 C1134.7 232.3 1138 230.7 1141.4 229.3 C1144.7 228 1148.1 227.4 1151.4 226.3 C1154.8 225.2 1158.1 223.7 1161.5 222.7 C1164.8 221.7 1168.5 220.8 1171.5 220.3 C1174.5 219.7 1177.3 219.6 1179.6 219.3 C1181.8 219 1184.3 218.7 1185.2 218.6" fill="none" stroke="#f44336" stroke-width="2" stroke-linejoin="round" stroke-linecap="round"/>
<rect x="159.05" y="291" width="1113.9" height="18.8" fill="#9c27b0" fill-opacity="0.5" stroke="#9519ac" stroke-width="1.9"/>
<rect x="477" y="160.1" width="904" height="3.8" fill="#004d40"/>
<rect x="450" y="204.1" width="931" height="3.7" fill="#004d40"/>
<g id="candles">
<rect x="-1.5" y="529.5" width="1.9" height="10.1" fill="#ef5350"/>
<rect x="-3.3" y="531.5" width="5.5" height="5" fill="#ef5350"/>
<rect x="4" y="525.1" width="1.9" height="9.5" fill="#ef5350"/>
<rect x="2.2" y="525.1" width="5.5" height="4.4" fill="#ef5350"/>
<rect x="9.5" y="525.5" width="1.9" height="11.1" fill="#26a69a"/>
<rect x="7.7" y="529.5" width="5.5" height="4.6" fill="#26a69a"/>
<rect x="15" y="516.8" width="1.9" height="17.7" fill="#26a69a"/>
<rect x="13.2" y="522.4" width="5.5" height="11.1" fill="#26a69a"/>
<rect x="20.5" y="510.8" width="1.9" height="20.7" fill="#ef5350"/>
<rect x="18.7" y="522.4" width="5.5" height="6" fill="#ef5350"/>
<rect x="24.2" y="512" width="5.5" height="22.5" fill="#ef5350"/>
<rect x="31.5" y="518" width="1.9" height="24.5" fill="#26a69a"/>
<rect x="29.7" y="529.5" width="5.5" height="9" fill="#26a69a"/>
<rect x="36.9" y="527.1" width="1.9" height="10.5" fill="#26a69a"/>
<rect x="35.1" y="532.5" width="5.5" height="4" fill="#26a69a"/>
<rect x="42.4" y="528.5" width="1.9" height="12.1" fill="#26a69a"/>
<rect x="40.6" y="534.5" width="5.5" height="5" fill="#26a69a"/>
<rect x="47.9" y="527.1" width="1.9" height="7.4" fill="#ef5350"/>
<rect x="46.1" y="532.1" width="5.5" height="1.4" fill="#ef5350"/>
<rect x="53.4" y="529.5" width="1.9" height="18.1" fill="#ef5350"/>
<rect x="51.6" y="531.5" width="5.5" height="11.1" fill="#ef5350"/>
<rect x="58.9" y="525.1" width="1.9" height="17.5" fill="#26a69a"/>
<rect x="57.1" y="525.1" width="5.5" height="9.5" fill="#26a69a"/>
<rect x="64.4" y="521" width="1.9" height="13.1" fill="#ef5350"/>
<rect x="62.6" y="521" width="5.5" height="11.5" fill="#ef5350"/>
<rect x="69.9" y="511" width="1.9" height="23.5" fill="#26a69a"/>
<rect x="68.1" y="511" width="5.5" height="17.5" fill="#26a69a"/>
<rect x="73.3" y="500.8" width="6" height="1.1" fill="#26a69a"/><rect x="75.6" y="499.8" width="1.5" height="3" fill="#26a69a"/>
<rect x="78.8" y="486.1" width="6" height="1.1" fill="#26a69a"/><rect x="81" y="485.1" width="1.5" height="3" fill="#26a69a"/>
<rect x="84.3" y="472.8" width="6" height="1.1" fill="#26a69a"/><rect x="86.5" y="471.8" width="1.5" height="3" fill="#26a69a"/>
<rect x="91.8" y="456.8" width="1.9" height="26.7" fill="#26a69a"/>
<rect x="90" y="456.8" width="5.5" height="1" fill="#26a69a"/>
<rect x="97.3" y="443.2" width="1.9" height="14.7" fill="#26a69a"/>
<rect x="95.5" y="443.2" width="5.5" height="1" fill="#26a69a"/>
<rect x="102.8" y="428.1" width="1.9" height="30.8" fill="#26a69a"/>
<rect x="101" y="428.1" width="5.5" height="6.6" fill="#26a69a"/>
<rect x="108.3" y="421.3" width="1.9" height="15.5" fill="#ef5350"/>
<rect x="106.5" y="430.3" width="5.5" height="2.4" fill="#ef5350"/>
<rect x="113.8" y="417.2" width="1.9" height="21.5" fill="#26a69a"/>
<rect x="112" y="422.1" width="5.5" height="9.7" fill="#26a69a"/>
<rect x="117.5" y="409.2" width="5.5" height="15.5" fill="#26a69a"/>
<rect x="123" y="393.1" width="5.5" height="13.5" fill="#26a69a"/>
<rect x="130.2" y="381.4" width="1.9" height="12.1" fill="#26a69a"/>
<rect x="128.4" y="381.4" width="5.5" height="1" fill="#26a69a"/>
<rect x="135.7" y="365.8" width="1.9" height="15.1" fill="#26a69a"/>
<rect x="133.9" y="365.8" width="5.5" height="1" fill="#26a69a"/>
<rect x="141.2" y="350.3" width="1.9" height="24.5" fill="#ef5350"/>
<rect x="139.4" y="357.9" width="5.5" height="12.9" fill="#ef5350"/>
<rect x="144.9" y="373.4" width="5.5" height="7.4" fill="#ef5350"/>
<rect x="150.4" y="364.3" width="5.5" height="32.2" fill="#26a69a"/>
<rect x="157.7" y="357.9" width="1.9" height="6.8" fill="#26a69a"/>
<rect x="155.9" y="358.9" width="5.5" height="1" fill="#26a69a"/>
<rect x="161.1" y="343.9" width="6" height="1.1" fill="#26a69a"/><rect x="163.4" y="342.9" width="1.5" height="3" fill="#26a69a"/>
<rect x="168.7" y="329.8" width="1.9" height="12.9" fill="#ef5350"/>
<rect x="166.9" y="329.8" width="5.5" height="1" fill="#ef5350"/>
<rect x="174.2" y="314.1" width="1.9" height="28.6" fill="#ef5350"/>
<rect x="172.4" y="319.1" width="5.5" height="7.4" fill="#ef5350"/>
<rect x="179.6" y="315.1" width="1.9" height="24.5" fill="#ef5350"/>
<rect x="177.8" y="332.2" width="5.5" height="7.4" fill="#ef5350"/>
<rect x="183.3" y="345.2" width="5.5" height="1.4" fill="#ef5350"/>
<rect x="188.6" y="363" width="6" height="1.1" fill="#26a69a"/><rect x="190.8" y="362" width="1.5" height="3" fill="#26a69a"/>
<rect x="194.1" y="374.1" width="6" height="1.1" fill="#26a69a"/><rect x="196.3" y="373.1" width="1.5" height="3" fill="#26a69a"/>
<rect x="201.6" y="366.4" width="1.9" height="25.3" fill="#26a69a"/>
<rect x="199.8" y="380" width="5.5" height="11.7" fill="#26a69a"/>
<rect x="207.1" y="372.8" width="1.9" height="17.1" fill="#ef5350"/>
<rect x="205.3" y="372.8" width="5.5" height="15.7" fill="#ef5350"/>
<rect x="212.6" y="379.4" width="1.9" height="20.1" fill="#ef5350"/>
<rect x="210.8" y="390.1" width="5.5" height="9.5" fill="#ef5350"/>
<rect x="216" y="414.9" width="6" height="1.1" fill="#26a69a"/><rect x="218.3" y="413.9" width="1.5" height="3" fill="#26a69a"/>
<rect x="223.6" y="399.1" width="1.9" height="31.6" fill="#26a69a"/>
<rect x="221.8" y="399.1" width="5.5" height="16.7" fill="#26a69a"/>
<rect x="229" y="384.5" width="1.9" height="8" fill="#26a69a"/>
<rect x="227.2" y="384.5" width="5.5" height="1" fill="#26a69a"/>
<rect x="234.5" y="369.4" width="1.9" height="32.2" fill="#ef5350"/>
<rect x="232.7" y="382" width="5.5" height="10.5" fill="#ef5350"/>
<rect x="240" y="379" width="1.9" height="20.9" fill="#ef5350"/>
<rect x="238.2" y="398.9" width="5.5" height="1" fill="#ef5350"/>
<rect x="245.5" y="396.1" width="1.9" height="12.5" fill="#ef5350"/>
<rect x="243.7" y="405" width="5.5" height="3.6" fill="#ef5350"/>
<rect x="251" y="413" width="1.9" height="11.7" fill="#ef5350"/>
<rect x="249.2" y="415" width="5.5" height="9.7" fill="#ef5350"/>
<rect x="256.5" y="417.2" width="1.9" height="23.1" fill="#ef5350"/>
<rect x="254.7" y="433.1" width="5.5" height="7.2" fill="#ef5350"/>
<rect x="262" y="420.2" width="1.9" height="29.6" fill="#26a69a"/>
<rect x="260.2" y="420.2" width="5.5" height="20.1" fill="#26a69a"/>
<rect x="267.5" y="411.6" width="1.9" height="11.1" fill="#26a69a"/>
<rect x="265.7" y="413" width="5.5" height="7.6" fill="#26a69a"/>
<rect x="272.9" y="406.2" width="1.9" height="20.5" fill="#26a69a"/>
<rect x="271.1" y="406.2" width="5.5" height="10.5" fill="#26a69a"/>
<rect x="276.6" y="401.1" width="5.5" height="5.4" fill="#26a69a"/>
<rect x="283.9" y="385.1" width="1.9" height="25.5" fill="#ef5350"/>
<rect x="282.1" y="385.1" width="5.5" height="22.5" fill="#ef5350"/>
<rect x="289.4" y="382" width="1.9" height="14.5" fill="#26a69a"/>
<rect x="287.6" y="385.1" width="5.5" height="11.5" fill="#26a69a"/>
<rect x="293.1" y="376" width="5.5" height="22.5" fill="#ef5350"/>
<rect x="298.6" y="398.1" width="5.5" height="12.5" fill="#ef5350"/>
<rect x="305.9" y="402.6" width="1.9" height="21.1" fill="#ef5350"/>
<rect x="304.1" y="402.6" width="5.5" height="5" fill="#ef5350"/>
<rect x="311.4" y="399.9" width="1.9" height="20.7" fill="#26a69a"/>
<rect x="309.6" y="413.2" width="5.5" height="7.4" fill="#26a69a"/>
<rect x="315.1" y="391.5" width="5.5" height="28.2" fill="#26a69a"/>
<rect x="322.3" y="386.5" width="1.9" height="5" fill="#26a69a"/>
<rect x="320.5" y="386.5" width="5.5" height="1" fill="#26a69a"/>
<rect x="327.8" y="382.8" width="1.9" height="20.7" fill="#ef5350"/>
<rect x="326" y="386.1" width="5.5" height="17.5" fill="#ef5350"/>
<rect x="333.3" y="386.5" width="1.9" height="25.5" fill="#ef5350"/>
<rect x="331.5" y="386.5" width="5.5" height="18.1" fill="#ef5350"/>
<rect x="338.8" y="391.1" width="1.9" height="13.9" fill="#26a69a"/>
<rect x="337" y="399.9" width="5.5" height="5" fill="#26a69a"/>
<rect x="342.5" y="395.1" width="5.5" height="13.5" fill="#ef5350"/>
<rect x="349.8" y="395.1" width="1.9" height="22.5" fill="#26a69a"/>
<rect x="348" y="402.6" width="5.5" height="9" fill="#26a69a"/>
<rect x="353.5" y="393.9" width="5.5" height="7.6" fill="#26a69a"/>
<rect x="358.7" y="377.9" width="6" height="1.1" fill="#26a69a"/><rect x="361" y="376.9" width="1.5" height="3" fill="#26a69a"/>
<rect x="364.2" y="362" width="6" height="1.1" fill="#26a69a"/><rect x="366.5" y="361" width="1.5" height="3" fill="#26a69a"/>
<rect x="371.7" y="346.2" width="1.9" height="9.7" fill="#26a69a"/>
<rect x="369.9" y="346.2" width="5.5" height="1" fill="#26a69a"/>
<rect x="377.2" y="330.2" width="1.9" height="16.5" fill="#26a69a"/>
<rect x="375.4" y="330.2" width="5.5" height="13.7" fill="#26a69a"/>
<rect x="382.7" y="320" width="1.9" height="10.7" fill="#26a69a"/>
<rect x="380.9" y="320" width="5.5" height="1" fill="#26a69a"/>
<rect x="388.2" y="306.9" width="1.9" height="15.7" fill="#26a69a"/>
<rect x="386.4" y="306.9" width="5.5" height="1" fill="#26a69a"/>
<rect x="393.7" y="292.2" width="1.9" height="11.7" fill="#26a69a"/>
<rect x="391.9" y="292.2" width="5.5" height="1" fill="#26a69a"/>
<rect x="399.2" y="276.3" width="1.9" height="14.5" fill="#26a69a"/>
<rect x="397.4" y="276.3" width="5.5" height="3" fill="#26a69a"/>
<rect x="404.7" y="262.1" width="1.9" height="32.8" fill="#ef5350"/>
<rect x="402.9" y="267.7" width="5.5" height="27.1" fill="#ef5350"/>
<rect x="410.2" y="274.3" width="1.9" height="31.6" fill="#26a69a"/>
<rect x="408.4" y="282.4" width="5.5" height="23.5" fill="#26a69a"/>
<rect x="415.6" y="270.3" width="1.9" height="12.5" fill="#26a69a"/>
<rect x="413.8" y="270.3" width="5.5" height="6.4" fill="#26a69a"/>
<rect x="421.1" y="255" width="1.9" height="9.7" fill="#ef5350"/>
<rect x="419.3" y="255" width="5.5" height="1" fill="#ef5350"/>
<rect x="424.8" y="240.1" width="5.5" height="23.5" fill="#26a69a"/>
<rect x="432.1" y="227.1" width="1.9" height="29.6" fill="#ef5350"/>
<rect x="430.3" y="233.5" width="5.5" height="13.1" fill="#ef5350"/>
<rect x="437.6" y="238.5" width="1.9" height="20.1" fill="#ef5350"/>
<rect x="435.8" y="247.2" width="5.5" height="11.5" fill="#ef5350"/>
<rect x="443.1" y="246.2" width="1.9" height="22.9" fill="#26a69a"/>
<rect x="441.3" y="264.3" width="5.5" height="4.8" fill="#26a69a"/>
<rect x="448.6" y="247.2" width="1.9" height="26.5" fill="#ef5350"/>
<rect x="446.8" y="256" width="5.5" height="14.7" fill="#ef5350"/>
<rect x="452.3" y="252" width="5.5" height="25.7" fill="#26a69a"/>
<rect x="457.5" y="237" width="6" height="1.1" fill="#26a69a"/><rect x="459.8" y="236" width="1.5" height="3" fill="#26a69a"/>
<rect x="463" y="220.9" width="6" height="1.1" fill="#26a69a"/><rect x="465.2" y="219.9" width="1.5" height="3" fill="#26a69a"/>
<rect x="468.5" y="205.4" width="6" height="1.1" fill="#26a69a"/><rect x="470.7" y="204.5" width="1.5" height="3" fill="#26a69a"/>
<rect x="474" y="188.7" width="6" height="1.1" fill="#26a69a"/><rect x="476.2" y="187.8" width="1.5" height="3" fill="#26a69a"/>
<rect x="479.5" y="172.6" width="6" height="1.1" fill="#26a69a"/><rect x="481.7" y="171.7" width="1.5" height="3" fill="#26a69a"/>
<rect x="484.9" y="156.9" width="6" height="1.1" fill="#26a69a"/><rect x="487.2" y="156" width="1.5" height="3" fill="#26a69a"/>
<rect x="492.5" y="163.7" width="1.9" height="12.1" fill="#26a69a"/>
<rect x="490.7" y="174.2" width="5.5" height="1" fill="#26a69a"/>
<rect x="496.2" y="162.7" width="5.5" height="28" fill="#ef5350"/>
<rect x="501.7" y="180.2" width="5.5" height="16.1" fill="#26a69a"/>
<rect x="509" y="176.2" width="1.9" height="30.2" fill="#26a69a"/>
<rect x="507.2" y="176.2" width="5.5" height="3.6" fill="#26a69a"/>
<rect x="512.6" y="176.2" width="5.5" height="23.5" fill="#ef5350"/>
<rect x="519.9" y="181.2" width="1.9" height="32.8" fill="#26a69a"/>
<rect x="518.1" y="191.9" width="5.5" height="18.9" fill="#26a69a"/>
<rect x="525.4" y="182.2" width="1.9" height="27.1" fill="#ef5350"/>
<rect x="523.6" y="182.2" width="5.5" height="25.1" fill="#ef5350"/>
<rect x="530.9" y="190.3" width="1.9" height="17.1" fill="#26a69a"/>
<rect x="529.1" y="193.7" width="5.5" height="13.7" fill="#26a69a"/>
<rect x="536.4" y="183.2" width="1.9" height="21.5" fill="#ef5350"/>
<rect x="534.6" y="190.3" width="5.5" height="8" fill="#ef5350"/>
<rect x="541.9" y="184.2" width="1.9" height="21.1" fill="#ef5350"/>
<rect x="540.1" y="184.2" width="5.5" height="14.1" fill="#ef5350"/>
<rect x="547.4" y="183.2" width="1.9" height="20.1" fill="#ef5350"/>
<rect x="545.6" y="187.9" width="5.5" height="9.5" fill="#ef5350"/>
<rect x="552.9" y="177.2" width="1.9" height="23.1" fill="#ef5350"/>
<rect x="551.1" y="187.9" width="5.5" height="6" fill="#ef5350"/>
<rect x="556.5" y="179.2" width="5.5" height="25.1" fill="#ef5350"/>
<rect x="563.8" y="191.3" width="1.9" height="26.7" fill="#ef5350"/>
<rect x="562" y="205.4" width="5.5" height="8" fill="#ef5350"/>
<rect x="569.3" y="208" width="1.9" height="11.5" fill="#26a69a"/>
<rect x="567.5" y="211.8" width="5.5" height="5.6" fill="#26a69a"/>
<rect x="574.8" y="198.3" width="1.9" height="33.2" fill="#26a69a"/>
<rect x="573" y="198.3" width="5.5" height="22.1" fill="#26a69a"/>
<rect x="580.3" y="191.3" width="1.9" height="9" fill="#26a69a"/>
<rect x="578.5" y="191.3" width="5.5" height="1" fill="#26a69a"/>
<rect x="585.8" y="183.8" width="1.9" height="26.5" fill="#ef5350"/>
<rect x="584" y="191.9" width="5.5" height="15.5" fill="#ef5350"/>
<rect x="591.3" y="200.3" width="1.9" height="22.1" fill="#26a69a"/>
<rect x="589.5" y="211.8" width="5.5" height="10.7" fill="#26a69a"/>
<rect x="596.8" y="211.4" width="1.9" height="19.1" fill="#ef5350"/>
<rect x="595" y="214.8" width="5.5" height="15.1" fill="#ef5350"/>
<rect x="602.3" y="220.4" width="1.9" height="21.1" fill="#ef5350"/>
<rect x="600.5" y="233.5" width="5.5" height="8" fill="#ef5350"/>
<rect x="605.9" y="230.1" width="5.5" height="25.5" fill="#ef5350"/>
<rect x="613.2" y="246" width="1.9" height="23.5" fill="#26a69a"/>
<rect x="611.4" y="264.5" width="5.5" height="4" fill="#26a69a"/>
<rect x="618.7" y="247" width="1.9" height="24.5" fill="#26a69a"/>
<rect x="616.9" y="250.4" width="5.5" height="18.1" fill="#26a69a"/>
<rect x="624.2" y="242" width="1.9" height="23.5" fill="#ef5350"/>
<rect x="622.4" y="248.4" width="5.5" height="11.5" fill="#ef5350"/>
<rect x="629.7" y="259.1" width="1.9" height="13.9" fill="#ef5350"/>
<rect x="627.9" y="263.5" width="5.5" height="9.5" fill="#ef5350"/>
<rect x="635.2" y="264.1" width="1.9" height="24.5" fill="#ef5350"/>
<rect x="633.4" y="269.5" width="5.5" height="12.1" fill="#ef5350"/>
<rect x="640.7" y="273.2" width="1.9" height="11.5" fill="#ef5350"/>
<rect x="638.9" y="276.2" width="5.5" height="4.8" fill="#ef5350"/>
<rect x="644.4" y="276.2" width="5.5" height="18.5" fill="#ef5350"/>
<rect x="651.7" y="279.2" width="1.9" height="24.5" fill="#26a69a"/>
<rect x="649.9" y="285.2" width="5.5" height="12.5" fill="#26a69a"/>
<rect x="657.1" y="277.6" width="1.9" height="11.1" fill="#ef5350"/>
<rect x="655.3" y="285.2" width="5.5" height="3.4" fill="#ef5350"/>
<rect x="662.6" y="272.2" width="1.9" height="18.1" fill="#26a69a"/>
<rect x="660.8" y="279.2" width="5.5" height="11.1" fill="#26a69a"/>
<rect x="668.1" y="278.6" width="1.9" height="11.7" fill="#ef5350"/>
<rect x="666.3" y="278.6" width="5.5" height="6.4" fill="#ef5350"/>
<rect x="673.6" y="273.2" width="1.9" height="13.5" fill="#ef5350"/>
<rect x="671.8" y="285" width="5.5" height="1.6" fill="#ef5350"/>
<rect x="679.1" y="279.6" width="1.9" height="10.7" fill="#ef5350"/>
<rect x="677.3" y="285.6" width="5.5" height="4.6" fill="#ef5350"/>
<rect x="684.6" y="269.1" width="1.9" height="23.5" fill="#26a69a"/>
<rect x="682.8" y="269.1" width="5.5" height="21.5" fill="#26a69a"/>
<rect x="690.1" y="255.5" width="1.9" height="12.5" fill="#ef5350"/>
<rect x="688.3" y="255.5" width="5.5" height="6" fill="#ef5350"/>
<rect x="695.6" y="260.1" width="1.9" height="14.5" fill="#26a69a"/>
<rect x="693.8" y="271.5" width="5.5" height="2.6" fill="#26a69a"/>
<rect x="701.1" y="263.9" width="1.9" height="26.1" fill="#ef5350"/>
<rect x="699.3" y="266.9" width="5.5" height="21.7" fill="#ef5350"/>
<rect x="704.7" y="285.6" width="5.5" height="10.1" fill="#ef5350"/>
<rect x="712" y="291.1" width="1.9" height="20.7" fill="#ef5350"/>
<rect x="710.2" y="296.3" width="5.5" height="14.5" fill="#ef5350"/>
<rect x="717.5" y="306.1" width="1.9" height="16.7" fill="#ef5350"/>
<rect x="715.7" y="317.4" width="5.5" height="5.4" fill="#ef5350"/>
<rect x="723" y="330.9" width="1.9" height="9.7" fill="#26a69a"/>
<rect x="721.2" y="338.1" width="5.5" height="1" fill="#26a69a"/>
<rect x="726.7" y="322.2" width="5.5" height="31.4" fill="#26a69a"/>
<rect x="734" y="308.7" width="1.9" height="8" fill="#26a69a"/>
<rect x="732.2" y="308.7" width="5.5" height="1" fill="#26a69a"/>
<rect x="739.5" y="294.3" width="1.9" height="28.6" fill="#26a69a"/>
<rect x="737.7" y="296.3" width="5.5" height="17.5" fill="#26a69a"/>
<rect x="745" y="282.2" width="1.9" height="20.5" fill="#26a69a"/>
<rect x="743.2" y="282.2" width="5.5" height="12.5" fill="#26a69a"/>
<rect x="748.4" y="268" width="6" height="1.1" fill="#26a69a"/><rect x="750.6" y="267" width="1.5" height="3" fill="#26a69a"/>
<rect x="755.9" y="253" width="1.9" height="25.1" fill="#ef5350"/>
<rect x="754.1" y="253" width="5.5" height="18.9" fill="#ef5350"/>
<rect x="761.4" y="257.1" width="1.9" height="21.5" fill="#26a69a"/>
<rect x="759.6" y="257.1" width="5.5" height="16.1" fill="#26a69a"/>
<rect x="766.9" y="248" width="1.9" height="25.5" fill="#26a69a"/>
<rect x="765.1" y="253.9" width="5.5" height="6.6" fill="#26a69a"/>
<rect x="772.4" y="251.4" width="1.9" height="23.7" fill="#ef5350"/>
<rect x="770.6" y="256.5" width="5.5" height="18.7" fill="#ef5350"/>
<rect x="777.9" y="254.5" width="1.9" height="30.2" fill="#26a69a"/>
<rect x="776.1" y="254.5" width="5.5" height="22.1" fill="#26a69a"/>
<rect x="783.4" y="248.4" width="1.9" height="17.7" fill="#ef5350"/>
<rect x="781.6" y="248.4" width="5.5" height="16.1" fill="#ef5350"/>
<rect x="788.9" y="249.4" width="1.9" height="13.1" fill="#26a69a"/>
<rect x="787.1" y="254.5" width="5.5" height="8" fill="#26a69a"/>
<rect x="794.4" y="237" width="1.9" height="23.5" fill="#26a69a"/>
<rect x="792.6" y="242.4" width="5.5" height="18.1" fill="#26a69a"/>
<rect x="799.8" y="229.7" width="1.9" height="17.7" fill="#ef5350"/>
<rect x="798" y="237.4" width="5.5" height="9" fill="#ef5350"/>
<rect x="803.5" y="244.8" width="5.5" height="5.6" fill="#ef5350"/>
<rect x="809" y="234.3" width="5.5" height="20.1" fill="#26a69a"/>
<rect x="816.3" y="226.9" width="1.9" height="24.5" fill="#ef5350"/>
<rect x="814.5" y="229.7" width="5.5" height="21.7" fill="#ef5350"/>
<rect x="821.8" y="221.3" width="1.9" height="33.2" fill="#26a69a"/>
<rect x="820" y="221.3" width="5.5" height="23.1" fill="#26a69a"/>
<rect x="827.3" y="218.3" width="1.9" height="8.6" fill="#ef5350"/>
<rect x="825.5" y="218.3" width="5.5" height="5" fill="#ef5350"/>
<rect x="832.8" y="205.8" width="1.9" height="24.5" fill="#26a69a"/>
<rect x="831" y="205.8" width="5.5" height="14.9" fill="#26a69a"/>
<rect x="838.3" y="203.2" width="1.9" height="23.1" fill="#ef5350"/>
<rect x="836.5" y="209.2" width="5.5" height="3.4" fill="#ef5350"/>
<rect x="843.8" y="211.8" width="1.9" height="20.5" fill="#ef5350"/>
<rect x="842" y="218.3" width="5.5" height="6" fill="#ef5350"/>
<rect x="849.2" y="206.8" width="1.9" height="15.9" fill="#26a69a"/>
<rect x="847.4" y="213.2" width="5.5" height="7.4" fill="#26a69a"/>
<rect x="854.7" y="208.2" width="1.9" height="26.1" fill="#ef5350"/>
<rect x="852.9" y="215.2" width="5.5" height="19.1" fill="#ef5350"/>
<rect x="858.4" y="236.4" width="5.5" height="10.1" fill="#ef5350"/>
<rect x="865.7" y="239.4" width="1.9" height="23.5" fill="#ef5350"/>
<rect x="863.9" y="239.4" width="5.5" height="13.7" fill="#ef5350"/>
<rect x="871.2" y="248.4" width="1.9" height="9" fill="#ef5350"/>
<rect x="869.4" y="251.4" width="5.5" height="6" fill="#ef5350"/>
<rect x="876.7" y="245.4" width="1.9" height="24.5" fill="#ef5350"/>
<rect x="874.9" y="245.4" width="5.5" height="5" fill="#ef5350"/>
<rect x="882.2" y="245.4" width="1.9" height="13.1" fill="#ef5350"/>
<rect x="880.4" y="254.5" width="5.5" height="4" fill="#ef5350"/>
<rect x="887.7" y="248.4" width="1.9" height="10.1" fill="#26a69a"/>
<rect x="885.9" y="256.9" width="5.5" height="1.6" fill="#26a69a"/>
<rect x="893.1" y="253.5" width="1.9" height="5" fill="#26a69a"/>
<rect x="891.3" y="255.5" width="5.5" height="3" fill="#26a69a"/>
<rect x="898.6" y="256.5" width="1.9" height="17.1" fill="#ef5350"/>
<rect x="896.8" y="256.5" width="5.5" height="7" fill="#ef5350"/>
<rect x="904.1" y="256.5" width="1.9" height="16.7" fill="#ef5350"/>
<rect x="902.3" y="267.1" width="5.5" height="6" fill="#ef5350"/>
<rect x="907.8" y="262.5" width="5.5" height="11.1" fill="#26a69a"/>
<rect x="915.1" y="251.4" width="1.9" height="23.1" fill="#26a69a"/>
<rect x="913.3" y="251.4" width="5.5" height="5" fill="#26a69a"/>
<rect x="920.6" y="240.4" width="1.9" height="11.1" fill="#26a69a"/>
<rect x="918.8" y="246" width="5.5" height="5.4" fill="#26a69a"/>
<rect x="924.3" y="247.4" width="5.5" height="15.1" fill="#ef5350"/>
<rect x="931.6" y="253.5" width="1.9" height="14.1" fill="#26a69a"/>
<rect x="929.8" y="255.5" width="5.5" height="3" fill="#26a69a"/>
<rect x="937.1" y="251" width="1.9" height="9.5" fill="#26a69a"/>
<rect x="935.3" y="251" width="5.5" height="5.4" fill="#26a69a"/>
<rect x="942.5" y="242.4" width="1.9" height="14.1" fill="#ef5350"/>
<rect x="940.7" y="249.4" width="5.5" height="7" fill="#ef5350"/>
<rect x="946.2" y="245.8" width="5.5" height="12.7" fill="#26a69a"/>
<rect x="953.5" y="236" width="1.9" height="20.5" fill="#26a69a"/>
<rect x="951.7" y="240.8" width="5.5" height="4.6" fill="#26a69a"/>
<rect x="957.2" y="234.7" width="5.5" height="11.3" fill="#ef5350"/>
<rect x="964.5" y="235.4" width="1.9" height="12.7" fill="#26a69a"/>
<rect x="962.7" y="238.4" width="5.5" height="9.7" fill="#26a69a"/>
<rect x="970" y="236.4" width="1.9" height="20.1" fill="#ef5350"/>
<rect x="968.2" y="241.4" width="5.5" height="2" fill="#ef5350"/>
<rect x="973.7" y="246.4" width="5.5" height="10.5" fill="#ef5350"/>
<rect x="981" y="249" width="1.9" height="9.5" fill="#26a69a"/>
<rect x="979.2" y="249" width="5.5" height="4.4" fill="#26a69a"/>
<rect x="986.5" y="235.4" width="1.9" height="15.1" fill="#ef5350"/>
<rect x="984.7" y="244.4" width="5.5" height="6" fill="#ef5350"/>
<rect x="991.9" y="237.4" width="1.9" height="16.7" fill="#ef5350"/>
<rect x="990.1" y="242" width="5.5" height="12.1" fill="#ef5350"/>
<rect x="997.4" y="252.4" width="1.9" height="15.1" fill="#26a69a"/>
<rect x="995.6" y="256.1" width="5.5" height="1" fill="#26a69a"/>
<rect x="1002.9" y="251.4" width="1.9" height="28.2" fill="#26a69a"/>
<rect x="1001.1" y="254.5" width="5.5" height="1" fill="#26a69a"/>
<rect x="1008.4" y="244.4" width="1.9" height="13.1" fill="#ef5350"/>
<rect x="1006.6" y="248.4" width="5.5" height="6" fill="#ef5350"/>
<rect x="1013.9" y="243.4" width="1.9" height="35.2" fill="#ef5350"/>
<rect x="1012.1" y="243.4" width="5.5" height="26.1" fill="#ef5350"/>
<rect x="1019.4" y="269.5" width="1.9" height="21.1" fill="#ef5350"/>
<rect x="1017.6" y="269.5" width="5.5" height="16.7" fill="#ef5350"/>
<rect x="1024.9" y="273.6" width="1.9" height="37.2" fill="#ef5350"/>
<rect x="1023.1" y="284.2" width="5.5" height="3.4" fill="#ef5350"/>
<rect x="1030.4" y="264.5" width="1.9" height="21.1" fill="#26a69a"/>
<rect x="1028.6" y="264.5" width="5.5" height="8" fill="#26a69a"/>
<rect x="1035.8" y="251.4" width="1.9" height="22.1" fill="#ef5350"/>
<rect x="1034" y="251.4" width="5.5" height="15.1" fill="#ef5350"/>
<rect x="1041.3" y="264.5" width="1.9" height="23.1" fill="#ef5350"/>
<rect x="1039.5" y="270.1" width="5.5" height="9.5" fill="#ef5350"/>
<rect x="1046.8" y="256.5" width="1.9" height="11.1" fill="#ef5350"/>
<rect x="1045" y="256.5" width="5.5" height="7.6" fill="#ef5350"/>
<rect x="1052.3" y="238.4" width="1.9" height="20.1" fill="#26a69a"/>
<rect x="1050.5" y="238.4" width="5.5" height="14.1" fill="#26a69a"/>
<rect x="1057.8" y="225.3" width="1.9" height="14.1" fill="#26a69a"/>
<rect x="1056" y="237.4" width="5.5" height="2" fill="#26a69a"/>
<rect x="1063.3" y="225.3" width="1.9" height="28.2" fill="#26a69a"/>
<rect x="1061.5" y="235.4" width="5.5" height="18.1" fill="#26a69a"/>
<rect x="1068.8" y="223.3" width="1.9" height="24.1" fill="#26a69a"/>
<rect x="1067" y="234.3" width="5.5" height="13.1" fill="#26a69a"/>
<rect x="1074.3" y="212.2" width="1.9" height="18.1" fill="#26a69a"/>
<rect x="1072.5" y="214.2" width="5.5" height="16.1" fill="#26a69a"/>
<rect x="1078" y="207.2" width="5.5" height="12.1" fill="#ef5350"/>
<rect x="1083.4" y="212.2" width="5.5" height="26.1" fill="#ef5350"/>
<rect x="1090.7" y="226.3" width="1.9" height="13.1" fill="#26a69a"/>
<rect x="1088.9" y="234.3" width="5.5" height="3" fill="#26a69a"/>
<rect x="1096.2" y="238.4" width="1.9" height="18.1" fill="#26a69a"/>
<rect x="1094.4" y="250" width="5.5" height="3" fill="#26a69a"/>
<rect x="1099.9" y="230.3" width="5.5" height="42.2" fill="#26a69a"/>
<rect x="1107.2" y="213.2" width="1.9" height="16.1" fill="#26a69a"/>
<rect x="1105.4" y="213.2" width="5.5" height="6" fill="#26a69a"/>
<rect x="1112.7" y="200.2" width="1.9" height="19.1" fill="#ef5350"/>
<rect x="1110.9" y="200.2" width="5.5" height="16.1" fill="#ef5350"/>
<rect x="1118.2" y="205.8" width="1.9" height="21.9" fill="#ef5350"/>
<rect x="1116.4" y="207.8" width="5.5" height="3.6" fill="#ef5350"/>
<rect x="1123.7" y="193.1" width="1.9" height="16.1" fill="#ef5350"/>
<rect x="1121.9" y="193.1" width="5.5" height="13.1" fill="#ef5350"/>
<rect x="1127.4" y="195.1" width="5.5" height="20.7" fill="#ef5350"/>
<rect x="1134.6" y="197.1" width="1.9" height="20.3" fill="#26a69a"/>
<rect x="1132.8" y="208.6" width="5.5" height="2.2" fill="#26a69a"/>
<rect x="1140.1" y="200.2" width="1.9" height="17.3" fill="#26a69a"/>
<rect x="1138.3" y="208.6" width="5.5" height="2.2" fill="#26a69a"/>
<rect x="1145.6" y="201.2" width="1.9" height="22.1" fill="#ef5350"/>
<rect x="1143.8" y="206.2" width="5.5" height="15.1" fill="#ef5350"/>
<rect x="1151.1" y="207.2" width="1.9" height="23.1" fill="#ef5350"/>
<rect x="1149.3" y="215.2" width="5.5" height="13.1" fill="#ef5350"/>
<rect x="1156.6" y="211.2" width="1.9" height="22.1" fill="#26a69a"/>
<rect x="1154.8" y="215.2" width="5.5" height="14.1" fill="#26a69a"/>
<rect x="1162.1" y="204.2" width="1.9" height="13.1" fill="#26a69a"/>
<rect x="1160.3" y="213.2" width="5.5" height="4" fill="#26a69a"/>
<rect x="1167.6" y="208.2" width="1.9" height="10.5" fill="#ef5350"/>
<rect x="1165.8" y="208.2" width="5.5" height="2.6" fill="#ef5350"/>
<rect x="1173.1" y="207.2" width="1.9" height="14.1" fill="#26a69a"/>
<rect x="1171.3" y="217.3" width="5.5" height="4" fill="#26a69a"/>
<rect x="1178.5" y="200.2" width="1.9" height="27.1" fill="#26a69a"/>
<rect x="1176.8" y="210.2" width="5.5" height="17.1" fill="#26a69a"/>
<rect x="1184" y="201.2" width="1.9" height="18.1" fill="#26a69a"/>
<rect x="1182.2" y="206.2" width="5.5" height="13.1" fill="#26a69a"/>
</g>
<g fill="#0b5548" stroke="#0b5548" stroke-width="0.3" font-size="27px">
<text x="1106" y="427.3" text-anchor="end" font-family="'DejaVu Sans',sans-serif" font-size="27.8px" textLength="375.5" lengthAdjust="spacingAndGlyphs">انجمن خبرگان سرمایه گذاری ایران</text>
<text x="835" y="455" font-family="'Liberation Sans',sans-serif" textLength="272" lengthAdjust="spacingAndGlyphs">Amoozesh-boors.com</text>
</g>
<line x1="3.05" y1="206.8" x2="1381" y2="206.8" stroke="#1c9d90" stroke-width="2" stroke-dasharray="1.9 4.1"/>
<rect x="0" y="726" width="1492" height="2" fill="#dedee2"/>
<rect x="0" y="945" width="1492" height="2" fill="#dedee2"/>
<rect x="1381" y="0" width="2" height="999" fill="#dedee2"/>
<rect x="0" y="805" width="1381" height="111" fill="#f1eefa"/>
<line x1="-9" y1="804" x2="1381" y2="804" stroke="#777a8c" stroke-width="2" stroke-dasharray="9.9 12.1"/>
<line x1="-9" y1="915" x2="1381" y2="915" stroke="#777a8c" stroke-width="2" stroke-dasharray="9.9 12.1"/>
<path d="M0 842.6 L5.2 840.3 L11 841.9 L16.9 834.4 L21.8 839.6 L27 851.3 L32.8 846.8 L38.7 849.6 L42.9 856.7 L48.8 848.9 L54.9 867.9 L61 842.1 L65 850.3 L71.1 827.4 L76.9 816.8 L80.5 804.1 L86.8 792.2 L93.1 782.1 L98.5 775.3 L102.7 768 L108.8 775 L114.9 770.3 L120.8 764.5 L125.5 758.2 L131.4 753.9 L137 749.5 L142.9 758.2 L147.1 780 L152.9 772.2 L159 769.9 L164.2 764.7 L168.9 758.6 L175 757 L180.9 784.4 L187 796.9 L190.7 822 L196.6 836 L202.9 843.8 L208.8 852 L218.9 876.6 L225.2 860.9 L230.8 847.8 L235.8 856.7 L241.6 863.7 L247 870.8 L252.2 880.6 L257.1 893 L263 874.7 L268.6 868.4 L273.3 862.1 L279.2 857.1 L285 862.1 L291.1 841.9 L295.6 854.3 L301.2 866.8 L307.1 863.7 L313.2 869.1 L317.4 848.9 L323.3 843.3 L329.1 859.7 L335 861.4 L339 857.4 L340 858.3 L345.2 865.4 L351 860.2 L356.9 850.8 L361.8 834.4 L367 822.7 L372.8 810.9 L378.7 800.4 L382.9 792.9 L388.8 785.1 L394.9 776.9 L401 771.1 L405 799.4 L411.1 792.9 L416.9 786.3 L422.1 780.4 L426.8 772.9 L433.1 784 L438.5 800.8 L444.4 810.9 L448.8 819.1 L454.9 806.2 L460.8 797.6 L466.7 788.6 L471.4 780.4 L477 773.9 L482.9 767.5 L487.1 762.4 L492.9 788.6 L498.8 810.9 L504.2 806.2 L508.9 802.7 L515 829.7 L520.9 825 L527 841.9 L531.2 831.3 L537.1 832.7 L542.9 835.6 L548.8 834.9 L553 830.2 L558.9 844.2 L564.7 854.3 L571.1 854.3 L575.3 839.8 L581.2 833.9 L587 851.5 L592.9 857.8 L597.1 874.7 L603 884.8 L608.8 894.2 L614.9 900.1 L619.2 884.4 L625 890.2 L630.9 898.4 L636.7 903.6 L641.2 902.9 L647.1 910.2 L652.9 900.5 L658.8 902 L663 891.2 L668.9 895.4 L674.8 895.9 L679.2 899.4 L680 897.7 L685.2 873.1 L691 863.7 L696.9 875.9 L701.1 887.6 L707 893.7 L712.8 903.6 L718.7 910.6 L722.9 918.1 L728.8 902.4 L734.9 887.6 L741 875.9 L745 861.4 L751.1 848 L756.9 851.5 L762.8 839.6 L767.3 836.7 L773.1 857.8 L779 840.3 L784.9 850.3 L789.1 841.4 L794.9 832.7 L800.8 836.3 L807.1 842.6 L811.1 828.5 L817 846.8 L822.9 824.3 L828.7 826.2 L832.9 814 L839 823.1 L844.9 836 L850.8 828.5 L855 850.1 L860.9 859.5 L867 865.4 L872.8 868.4 L877.1 862.8 L882.9 868.9 L888.8 868.9 L893 868.4 L898.9 874.7 L905 883.7 L910.8 871.9 L915.3 858.3 L921.2 853.6 L927 870 L932.9 864.2 L937.1 858.1 L943 863.7 L948.8 851.3 L954.9 846.6 L959.2 852 L965 843.1 L971.1 850.1 L977 867.9 L981.2 860.2 L987.1 858.1 L992.9 864.4 L998.8 867.7 L1003.3 865.1 L1009.1 864.9 L1015 885.5 L1020.9 902 L1020.9 902 L1025.2 903.1 L1031 868.4 L1036.9 867.9 L1042.8 884.8 L1047 862.5 L1052.8 836.7 L1058.7 835.6 L1064.6 833.2 L1068.8 832.5 L1074.9 812.8 L1081 819.8 L1085 848 L1091.1 844.2 L1096.9 864.2 L1102.8 842.6 L1106.8 827.4 L1113.1 831.3 L1119 826.6 L1124.9 822.2 L1128.8 836.3 L1134.9 830.2 L1140.8 830.2 L1146.7 846.6 L1151.1 856.7 L1157 842.6 L1162.9 839.8 L1168.7 836.7 L1172.9 848.9 L1179 840.3 L1185.9 834.9" fill="none" stroke="#7e57c2" stroke-width="1.7" stroke-linejoin="round"/>
<g font-family="'Liberation Sans',sans-serif" font-size="23.2px" fill="#131722" stroke="#131722" stroke-width="0.3">
<text x="1401.4" y="37.3" textLength="59.6" lengthAdjust="spacingAndGlyphs">60000</text>
<text x="1401.4" y="110" textLength="59.6" lengthAdjust="spacingAndGlyphs">48000</text>
<text x="1401.4" y="281.4" textLength="59.6" lengthAdjust="spacingAndGlyphs">28500</text>
<text x="1401.4" y="358.8" textLength="59.6" lengthAdjust="spacingAndGlyphs">22500</text>
<text x="1401.4" y="423.1" textLength="59.6" lengthAdjust="spacingAndGlyphs">18500</text>
<text x="1401.4" y="502.7" textLength="59.6" lengthAdjust="spacingAndGlyphs">14500</text>
<text x="1401.4" y="578.8" textLength="59.6" lengthAdjust="spacingAndGlyphs">11500</text>
<text x="1401.4" y="641.7" textLength="47.7" lengthAdjust="spacingAndGlyphs">9500</text>
<text x="1401.4" y="701.8" textLength="47.7" lengthAdjust="spacingAndGlyphs">7900</text>
<text x="1401.4" y="797.9" textLength="55.9" lengthAdjust="spacingAndGlyphs">75.00</text>
<text x="1401.4" y="867.4" textLength="55.9" lengthAdjust="spacingAndGlyphs">50.00</text>
<text x="1401.4" y="937.1" textLength="55.9" lengthAdjust="spacingAndGlyphs">25.00</text>
</g>
<path d="M1381 122 H1469 a4 4 0 0 1 4 4 V156.2 H1381 Z" fill="#004d40"/>
<path d="M1381 155.5 H1469 a4 4 0 0 1 4 4 V185.5 a4 4 0 0 1 -4 4 H1381 Z" fill="#004d40"/>
<path d="M1381 189.7 H1469 a4 4 0 0 1 4 4 V219.7 a4 4 0 0 1 -4 4 H1381 Z" fill="#26a69a"/>
<g font-family="'Liberation Sans',sans-serif" font-size="23.2px" fill="#fff" stroke="#fff" stroke-width="0.3">
<text x="1401.4" y="147.2" textLength="59.6" lengthAdjust="spacingAndGlyphs">40000</text>
<text x="1401.4" y="181.5" textLength="59.6" lengthAdjust="spacingAndGlyphs">35000</text>
<text x="1401.4" y="215.5" textLength="59.6" lengthAdjust="spacingAndGlyphs">34870</text>
</g>
<g font-size="21px" fill="#131722" text-anchor="middle">
<text x="98.5" y="981.6" font-weight="bold" font-family="'Liberation Sans',sans-serif" font-size="23px">1401</text>
<text x="301" y="981.4" font-family="'DejaVu Sans',sans-serif" font-size="22.5px">اسفند</text>
<text x="581.5" y="981.4" font-family="'DejaVu Sans',sans-serif" font-size="22.5px">خرداد</text>
<text x="783.5" y="981.4" font-family="'DejaVu Sans',sans-serif" font-size="22.5px">مرداد</text>
<text x="998" y="981.4" font-family="'DejaVu Sans',sans-serif" font-size="22.5px">مهر</text>
<text x="1162.6" y="981.8" font-family="'Liberation Sans',sans-serif" font-size="23.2px" textLength="23.8" lengthAdjust="spacingAndGlyphs" stroke="#131722" stroke-width="0.3">22</text>
</g>
<svg x="0" y="946" width="1381" height="53" viewBox="0 946 1381 53"><text x="1355.3" y="981.6" text-anchor="middle" font-weight="bold" font-family="'Liberation Sans',sans-serif" font-size="23px" fill="#131722">1402</text></svg>
<g stroke="#131722" stroke-width="1.7" fill="none" stroke-linecap="round">
<circle cx="1436.8" cy="973" r="10.1"/>
<line x1="1448" y1="973" x2="1451" y2="973"/>
<line x1="1444.7" y1="980.9" x2="1446.8" y2="983"/>
<line x1="1436.8" y1="984.2" x2="1436.8" y2="987.2"/>
<line x1="1428.9" y1="980.9" x2="1426.8" y2="983"/>
<line x1="1425.6" y1="973" x2="1422.6" y2="973"/>
<line x1="1428.9" y1="965.1" x2="1426.8" y2="963"/>
<line x1="1436.8" y1="961.8" x2="1436.8" y2="958.8"/>
<line x1="1444.7" y1="965.1" x2="1446.8" y2="963"/>
</g>
</svg>
</body></html>
